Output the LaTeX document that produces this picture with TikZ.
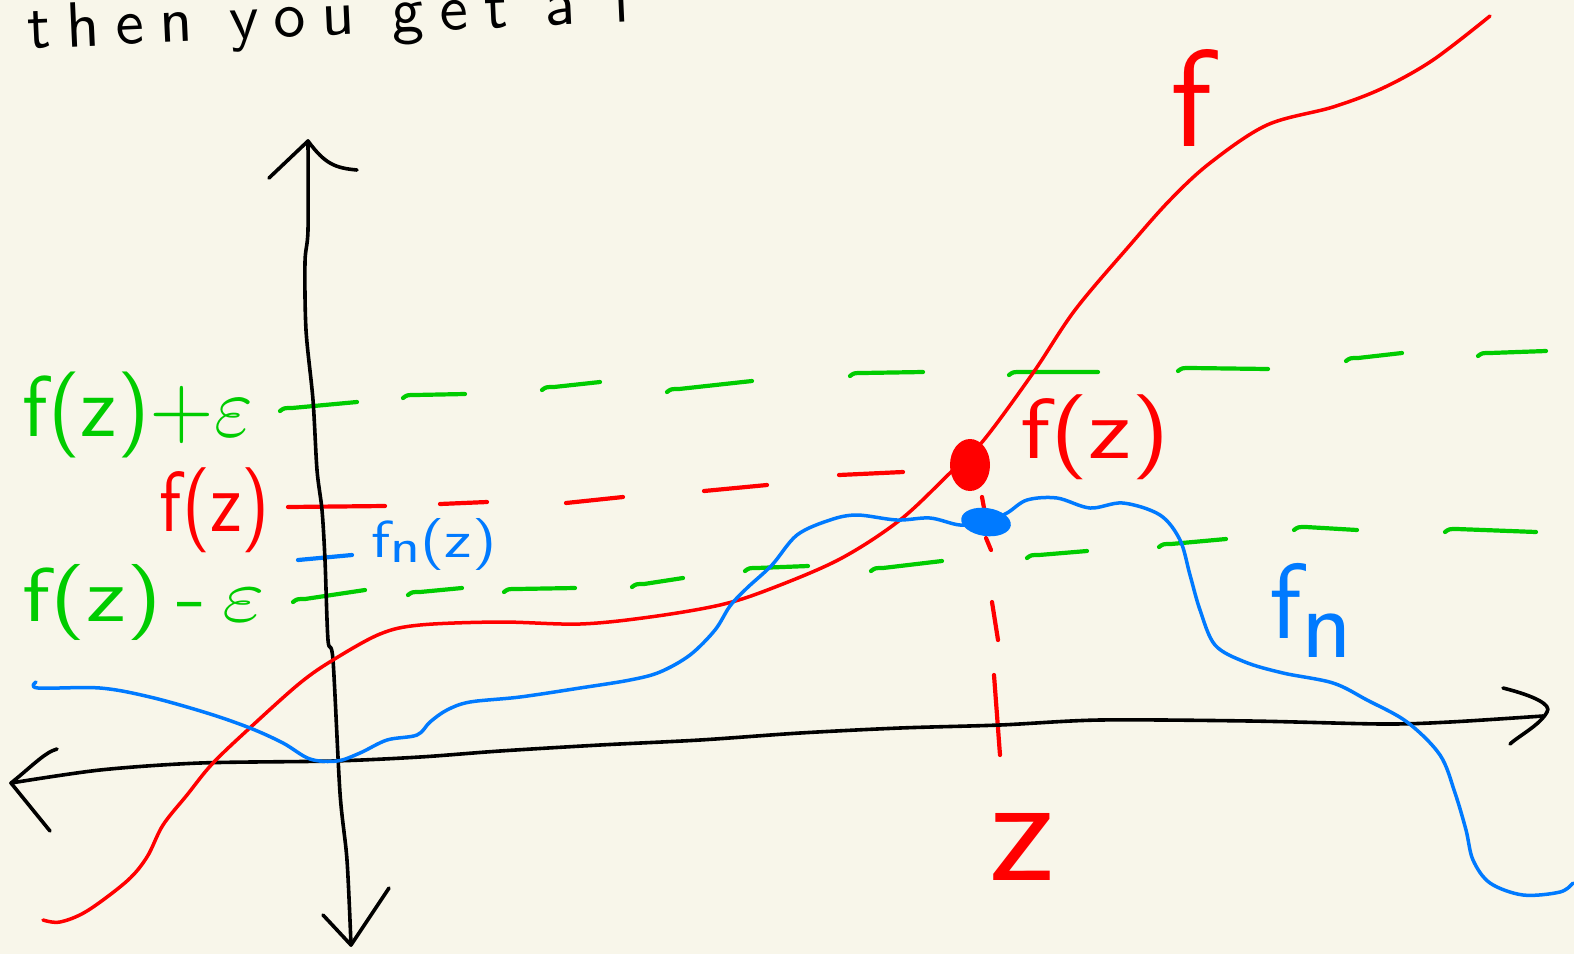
\documentclass[tikz,border=0pt]{standalone}
\usepackage{graphicx}
\usepackage{fontspec}
\newfontfamily\handsf{lmsans10-regular.otf}[LetterSpace=25]
\definecolor{bg}{RGB}{248,246,234}
\definecolor{hred}{RGB}{255,0,0}
\definecolor{hgreen}{RGB}{0,204,0}
\definecolor{hblue}{RGB}{0,122,255}
\newcommand\hw[3]{\resizebox*{#1}{#2}{\sffamily #3}}
\begin{document}
\begin{tikzpicture}[x=1pt,y=-1pt,line cap=round,line join=round,
  axis/.style={black,line width=3.6pt},
  curve/.style={line width=3.5pt},
  dsh/.style={line width=4.2pt},
  lab/.style={inner sep=0pt}]
\fill[bg] (0,0) rectangle (1574,954);
\useasboundingbox (0,0) rectangle (1574,954);

% title text
\node[lab,anchor=base west,rotate=2.6] (title) at (28,49)
  {\fontsize{64}{68}\selectfont\handsf then you get a f};

% green dashed f(z)+eps
\foreach \a/\b/\c/\d in {280/408/357/402,403/395/465/394,542/387/600/382,667/389/752/381,850/373/923/372,1009/372/1098/372,1178/368/1268/369,1346/358/1402/353,1478/353/1546/351}
  \draw[dsh,hgreen] (\a,\b+3) .. controls (\a+4,\b) .. (\a+12,\b) -- (\c,\d);
% green dashed f(z)-eps
\foreach \a/\b/\c/\d in {293/599/365/590,408/592/462/588,504/589/575/588,632/584/683/578,745/568/808/566,871/568/942/561,1027/555/1087/551,1159/544/1226/539,1294/527/1357/530,1445/529/1536/532}
  \draw[dsh,hgreen] (\a,\b+3) .. controls (\a+4,\b) .. (\a+12,\b) -- (\c,\d);
% red dashed f(z)
\foreach \a/\b/\c/\d in {288/507/385/506,440/504/487/502,566/503/623/497,704/491/767/485,839/475/903/472}
  \draw[dsh,hred] (\a,\b) -- (\c,\d);
% red dashed vertical z
\foreach \a/\b/\c/\d in {982/497/984/508,986/538/991/550,992/602/998/640,994/675/1000/755}
  \draw[dsh,hred] (\a,\b) -- (\c,\d);
% blue tick
\draw[dsh,hblue] (298,560) -- (352,555);

% axes
\coordinate (ytop) at (308,141);
\coordinate (ybot) at (351,945);
\coordinate (xl) at (11,783);
\draw[axis] plot[smooth,tension=0.5] coordinates {(308,141) (308,230) (305,262) (306,330) (313,400) (317,470) (322,510) (325,560) (328,640) (333,660) (340,793) (347,860) (351,945)};
\draw[axis] (269,178) -- (ytop) .. controls (325,164) and (335,168) .. (357,170);
\draw[axis] (323,915) -- (ybot) -- (389,888);
\draw[axis] plot[smooth,tension=0.5] coordinates {(11,783) (100,770) (200,763) (333,761) (420,757) (500,751) (600,745) (700,740) (800,733) (900,728) (1000,725) (1100,720) (1250,721) (1383,724) (1450,722) (1543,716)};
\draw[axis] (57,749) .. controls (45,752) and (30,768) .. (xl) -- (50,831);
\draw[axis] (1503,688) .. controls (1535,696) and (1552,705) .. (1547,712) .. controls (1540,725) and (1520,735) .. (1510,744);

% red curve f
\draw[curve,hred] plot[smooth,tension=0.55] coordinates {(43,920) (60,922) (87,911) (127,881) (147,857) (163,825) (187,795) (213,763) (253,725) (300,683) (333,660) (380,634) (420,625) (500,622) (580,624) (650,617) (720,605) (770,589) (840,559) (900,520) (950,473) (983,441) (1033,373) (1075,310) (1130,245) (1170,200) (1210,163) (1267,125) (1333,107) (1383,88) (1433,60) (1490,16)};

% blue curve f_n
\draw[curve,hblue] plot[smooth,tension=0.55] coordinates {(36,682) (38,688) (100,688) (150,697) (207,713) (250,728) (283,743) (310,759) (337,761) (360,753) (387,740) (417,735) (430,722) (447,710) (470,702) (520,697) (580,688) (630,680) (660,672) (690,655) (715,630) (730,606) (747,588) (772,565) (797,535) (830,520) (857,515) (897,520) (930,518) (960,525) (986,522) (1007,513) (1027,500) (1057,498) (1090,508) (1123,503) (1160,515) (1180,540) (1190,575) (1200,610) (1215,645) (1245,662) (1283,673) (1333,683) (1367,700) (1407,722) (1440,755) (1455,793) (1466,830) (1473,860) (1490,883) (1523,895) (1560,892) (1573,883)};

% dots
\fill[hred] (970,465) ellipse [x radius=20,y radius=26];
\fill[hblue,rotate around={-8:(986,522)}] (986,522) ellipse [x radius=25,y radius=14];

% labels
\node[lab,text=hgreen] (lplus) at (138,415) {\hw{230pt}{86pt}{f(z)+$\varepsilon$}};
\node[lab,text=hred] (lfz) at (215,510) {\hw{110pt}{85pt}{f(z)}};
\node[lab,text=hblue] (lfnz) at (434,544) {\hw{125pt}{52pt}{f\raisebox{-0.25ex}{\small n}(z)}};
\node[lab,text=hgreen] (lminus) at (144,602) {\hw{242pt}{76pt}{f(z)\,-\,$\varepsilon$}};
\node[lab,text=hred] (rfz) at (1095,437) {\hw{150pt}{85pt}{f(z)}};
\node[lab,text=hred] (lf) at (1192,98) {\hw{!}{97pt}{f}};
\node[lab,text=hblue] (lfn) at (1311,610) {\hw{!}{94pt}{f\raisebox{-0.4ex}{\small n}}};
\node[lab,text=hred] (lz) at (1022,847) {\hw{!}{67pt}{z}};
\end{tikzpicture}
\end{document}
